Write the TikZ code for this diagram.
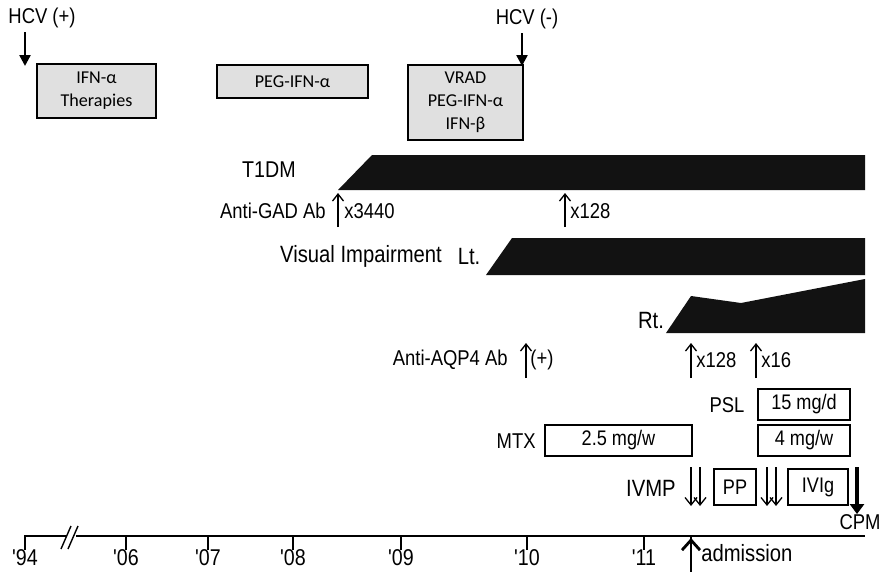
\documentclass[tikz,border=0pt]{standalone}
\usepackage{fontspec}
\setmainfont{Liberation Sans}
\newfontfamily\lblfont{Liberation Sans}[FakeStretch=0.86]
\newfontfamily\boxfont{Carlito}
\usepackage{tikz}
\usetikzlibrary{arrows.meta,positioning}
\definecolor{BoxGray}{RGB}{224,224,224}
\definecolor{BarBlack}{RGB}{18,18,18}

\begin{document}
\begin{tikzpicture}[x=0.02cm,y=-0.02cm,
    lbl/.style={inner sep=0pt,font=\lblfont\fontsize{12.2}{14}\selectfont},
    drug/.style={draw,line width=0.8pt,fill=BoxGray,align=center,inner sep=0pt,
      font=\boxfont\fontsize{10.3}{13}\selectfont},
    dose/.style={draw,line width=0.8pt,inner sep=0pt,font=\lblfont\fontsize{12}{14}\selectfont},
    bar/.style={fill=BarBlack},
    hcvarr/.style={line width=1.4pt,-{Triangle[length=2.2mm,width=2.2mm]}},
    abarr/.style={line width=0.75pt,-{Straight Barb[length=1.4mm,width=2.2mm]}},
    ivarr/.style={line width=0.75pt,-{Straight Barb[length=1.5mm,width=2.4mm]}},
    yrtick/.style={line width=1.3pt}]
  \useasboundingbox (0,0) rectangle (881,571);

  % HCV status and interferon courses
  \node[lbl] (hcvpos) at (42,18) {HCV (+)};
  \node[lbl] (hcvneg) at (527,19) {HCV (-)};
  \node[drug,minimum width=2.38cm,minimum height=1.08cm] (ifn) at (96.5,91) {IFN-α\\Therapies};
  \node[drug,minimum width=3.02cm,minimum height=0.66cm] (peg) at (292.5,81.5) {PEG-IFN-α};
  \node[drug,minimum width=2.3cm,minimum height=1.5cm] (vrad) at (465.5,102.5) {VRAD\\PEG-IFN-α\\IFN-β};
  \coordinate (hcvposend) at (25,66);
  \coordinate (hcvnegend) at (522,66);
  \draw[hcvarr] (hcvpos.south -| hcvposend) ++(0,4) -- (hcvposend);
  \draw[hcvarr] (hcvneg.south -| hcvnegend) ++(0,4) -- (hcvnegend);

  % T1DM and anti-GAD
  \fill[bar] (338,190) -- (372,155) -- (865,155) -- (865,190) -- cycle;
  \node[lbl,anchor=east,font=\lblfont\fontsize{13}{15}\selectfont] (t1dm) at (296,170) {T1DM};
  \node[lbl,anchor=east] (gad) at (326,211) {Anti-GAD Ab};
  \node[lbl,anchor=west] (gad1) at (344,211) {x3440};
  \node[lbl,anchor=west] (gad2) at (570,211) {x128};
  \coordinate (gad1b) at (338,227); \coordinate (gad1t) at (338,193);
  \coordinate (gad2b) at (565,227); \coordinate (gad2t) at (565,193);
  \draw[abarr] (gad1b) -- (gad1t);
  \draw[abarr] (gad2b) -- (gad2t);

  % visual impairment
  \node[lbl,font=\lblfont\fontsize{13.4}{15}\selectfont] (visual) at (361,256) {Visual Impairment};
  \node[lbl,font=\lblfont\fontsize{13.4}{15}\selectfont] (lt) at (469,256) {Lt.};
  \fill[bar] (486,275) -- (512,238) -- (865,238) -- (865,275) -- cycle;
  \node[lbl,font=\lblfont\fontsize{13.4}{15}\selectfont] (rt) at (651,320) {Rt.};
  \fill[bar] (666,333) -- (691,296) -- (741,303) -- (865,279) -- (865,333) -- cycle;

  % anti-AQP4
  \node[lbl,anchor=east] (aqp) at (508,360) {Anti-AQP4 Ab};
  \node[lbl,anchor=west] (aqp1) at (530,360) {(+)};
  \node[lbl,anchor=west] (aqp2) at (696,360) {x128};
  \node[lbl,anchor=west] (aqp3) at (761,360) {x16};
  \coordinate (aqp1b) at (526,378); \coordinate (aqp1t) at (526,343);
  \coordinate (aqp2b) at (691,378); \coordinate (aqp2t) at (691,343);
  \coordinate (aqp3b) at (756,378); \coordinate (aqp3t) at (756,343);
  \draw[abarr] (aqp1b) -- (aqp1t);
  \draw[abarr] (aqp2b) -- (aqp2t);
  \draw[abarr] (aqp3b) -- (aqp3t);

  % treatments
  \node[lbl] (psl) at (727,405) {PSL};
  \node[dose,minimum width=1.84cm,minimum height=0.62cm] (psl15) at (804,404.5) {15 mg/d};
  \node[dose,minimum width=1.84cm,minimum height=0.62cm] (psl4) at (804,440.5) {4 mg/w};
  \node[lbl,anchor=east] (mtx) at (536,441) {MTX};
  \node[dose,minimum width=2.94cm,minimum height=0.62cm] (mtx25) at (618.5,440.5) {2.5 mg/w};
  \node[lbl,anchor=east,font=\lblfont\fontsize{13.4}{15}\selectfont] (ivmp) at (676,488) {IVMP};
  \node[dose,minimum width=0.84cm,minimum height=0.72cm] (pp) at (735,487) {PP};
  \node[dose,minimum width=1.2cm,minimum height=0.72cm] (ivig) at (818,487) {IVIg};
  \coordinate (iv1t) at (691,467); \coordinate (iv1b) at (691,506);
  \coordinate (iv2t) at (700,467); \coordinate (iv2b) at (700,506);
  \coordinate (iv3t) at (767,467); \coordinate (iv3b) at (767,506);
  \coordinate (iv4t) at (776,467); \coordinate (iv4b) at (776,506);
  \draw[ivarr] (iv1t) -- (iv1b);
  \draw[ivarr] (iv2t) -- (iv2b);
  \draw[ivarr] (iv3t) -- (iv3b);
  \draw[ivarr] (iv4t) -- (iv4b);
  \node[lbl] (cpm) at (860,522) {CPM};
  \coordinate (cpmt) at (857,467);
  \draw[line width=2.6pt,-{Triangle[length=2mm,width=2.8mm]}] (cpmt) -- (cpm.north -| cpmt);

  % time axis
  \coordinate (axl) at (24,536);
  \coordinate (axr) at (865,536);
  \draw[yrtick] (axl) -- (axr);
  \foreach \xx/\yr [count=\i] in {25/'94,126/'06,208/'07,293/'08,401/'09,527/'10,644/'11}{
    \draw[yrtick] (\xx,536) -- (\xx,550);
    \node[lbl,font=\lblfont\fontsize{13}{15}\selectfont] (yr\i) at (\xx,558) {\yr};
  }
  \draw[white,line width=3pt] (66,537) -- (76,537);
  \draw[line width=0.8pt] (61,549) -- (71,526);
  \draw[line width=0.8pt] (68,549) -- (78,526);
  \node[lbl,anchor=west,font=\lblfont\fontsize{13.4}{15}\selectfont] (adm) at (701,553) {admission};
  \coordinate (admb) at (691,575);
  \draw[line width=1.6pt,-{Straight Barb[length=2mm,width=3.6mm]}] (admb) -- (axl -| admb) ++(0,2);
\end{tikzpicture}
\end{document}
